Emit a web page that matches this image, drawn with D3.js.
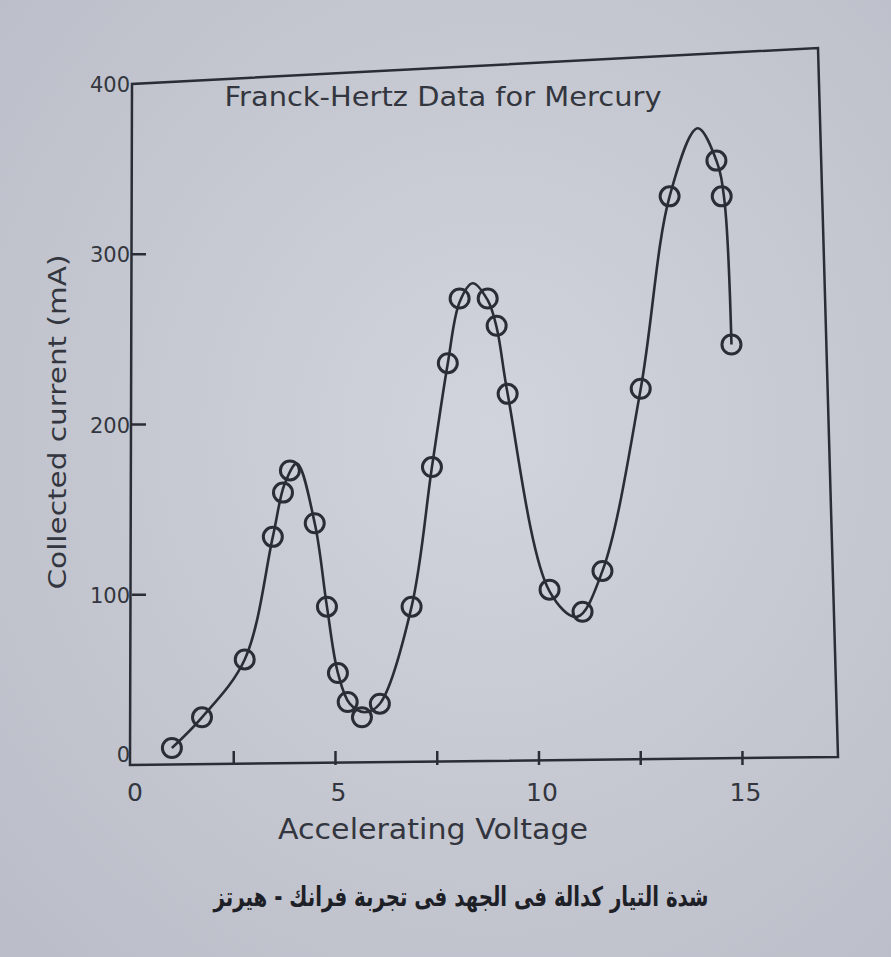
<!DOCTYPE html>
<html>
<head>
<meta charset="utf-8">
<script src="https://cdn.jsdelivr.net/npm/d3@7"></script>
<style>
  body { margin: 0; background: #c7cad3; }
  svg { display: block; }
</style>
</head>
<body>
<div id="grafico"></div>
<script>
// datos medidos (círculos)
const voltaje = [0.98, 1.72, 2.77, 3.46, 3.71, 3.88, 4.49, 4.79, 5.06, 5.30, 5.65, 6.09, 6.87,
  7.37, 7.76, 8.05, 8.74, 8.96, 9.23, 10.26, 11.07, 11.56, 12.50, 13.21, 14.36, 14.49, 14.73];
const corriente = [10, 28, 62, 134, 160, 173, 142, 93, 54, 37, 28, 36, 93,
  175, 236, 274, 274, 258, 218, 103, 90, 114, 221, 334, 355, 334, 247];

// curva suave dibujada a mano sobre los puntos
const curvaV = [0.98, 1.72, 2.77, 3.46, 3.75, 4.05, 4.49, 4.79, 5.06, 5.35, 5.72, 6.09, 6.87,
  7.37, 7.76, 8.05, 8.37, 8.74, 8.96, 9.23, 10.26, 10.93, 11.56, 12.50, 13.21, 13.90, 14.36, 14.55, 14.73];
const curvaI = [10, 28, 62, 134, 165, 177, 142, 93, 54, 36, 31, 36, 93,
  175, 236, 272, 283, 273, 257, 218, 102, 87, 114, 221, 334, 374, 355, 333, 247];

const ticksX = [0, 5, 10, 15];
const ticksXmenores = [2.5, 7.5, 12.5];
const ticksY = [0, 100, 200, 300, 400];

const titulo = "Franck-Hertz Data for Mercury";
const etiquetaX = "Accelerating Voltage";
const etiquetaY = "Collected current (mA)";
const pie = "شدة التيار كدالة فى الجهد فى تجربة فرانك - هيرتز";

const ancho = 891, alto = 957;
const tinta = "#2a2d35";
const gris = "#33363e";

const svg = d3.select("#grafico").append("svg")
  .attr("width", ancho)
  .attr("height", alto);

// papel
const grad = svg.append("defs").append("radialGradient")
  .attr("id", "papel").attr("cx", "55%").attr("cy", "45%").attr("r", "75%");
grad.append("stop").attr("offset", "0%").attr("stop-color", "#d1d4dc");
grad.append("stop").attr("offset", "100%").attr("stop-color", "#bbbec8");
svg.append("rect").attr("width", ancho).attr("height", alto).attr("fill", "url(#papel)");

const x = d3.scaleLinear().domain([0, 17.2]).range([132, 832]);
const y = d3.scaleLinear().domain([0, 400]).range([765, 84]);

// marco
svg.append("path")
  .attr("d", `M${x(0)},${y(400)} L${x(0) - 2},${y(0)} L${x(17.2) + 6},${y(0) - 8} L${x(17.2) - 14},${y(400) - 36} Z`)
  .attr("fill", "none")
  .attr("stroke", tinta)
  .attr("stroke-width", 2.5);

// marcas del eje x (hacia adentro)
svg.selectAll("line.tickX")
  .data(ticksX.slice(1).concat(ticksXmenores))
  .enter().append("line")
  .attr("class", "tickX")
  .attr("x1", d => x(d)).attr("x2", d => x(d))
  .attr("y1", y(0)).attr("y2", y(0) - 14)
  .attr("stroke", tinta).attr("stroke-width", 2.5);

svg.selectAll("text.tickX")
  .data(ticksX)
  .enter().append("text")
  .attr("class", "tickX")
  .attr("x", d => x(d) + 3)
  .attr("y", y(0) + 36)
  .attr("text-anchor", "middle")
  .attr("font-family", "DejaVu Sans")
  .attr("font-size", 25)
  .attr("fill", gris)
  .text(d => d);

// marcas del eje y
svg.selectAll("line.tickY")
  .data(ticksY.slice(1, 4))
  .enter().append("line")
  .attr("class", "tickY")
  .attr("x1", x(0)).attr("x2", x(0) + 14)
  .attr("y1", d => y(d)).attr("y2", d => y(d))
  .attr("stroke", tinta).attr("stroke-width", 2.5);

svg.selectAll("text.tickY")
  .data(ticksY)
  .enter().append("text")
  .attr("class", "tickY")
  .attr("x", x(0) - 2)
  .attr("y", d => d === 0 ? y(d) - 3 : y(d) + 8)
  .attr("text-anchor", "end")
  .attr("font-family", "DejaVu Sans")
  .attr("font-size", 21)
  .attr("fill", gris)
  .text(d => d);

// titulos
svg.append("text")
  .attr("x", 443).attr("y", 106)
  .attr("text-anchor", "middle")
  .attr("font-family", "DejaVu Sans")
  .attr("font-size", 27)
  .attr("textLength", 437)
  .attr("lengthAdjust", "spacingAndGlyphs")
  .attr("fill", gris)
  .text(titulo);

svg.append("text")
  .attr("x", 433).attr("y", 839)
  .attr("text-anchor", "middle")
  .attr("font-family", "DejaVu Sans")
  .attr("font-size", 28)
  .attr("textLength", 310)
  .attr("lengthAdjust", "spacingAndGlyphs")
  .attr("fill", gris)
  .text(etiquetaX);

svg.append("text")
  .attr("transform", "translate(66,422) rotate(-90)")
  .attr("text-anchor", "middle")
  .attr("font-family", "DejaVu Sans")
  .attr("font-size", 24)
  .attr("textLength", 335)
  .attr("lengthAdjust", "spacingAndGlyphs")
  .attr("fill", gris)
  .text(etiquetaY);

svg.append("text")
  .attr("x", 461).attr("y", 906)
  .attr("text-anchor", "middle")
  .attr("direction", "rtl")
  .attr("font-family", "DejaVu Sans")
  .attr("font-weight", "bold")
  .attr("font-size", 27)
  .attr("textLength", 495)
  .attr("lengthAdjust", "spacingAndGlyphs")
  .attr("fill", "#1e2027")
  .text(pie);

// curva
const linea = d3.line()
  .x((d, i) => x(curvaV[i]))
  .y(d => y(d))
  .curve(d3.curveCatmullRom.alpha(0.5));

svg.append("path")
  .datum(curvaI)
  .attr("d", linea)
  .attr("fill", "none")
  .attr("stroke", tinta)
  .attr("stroke-width", 2.6);

// puntos
svg.selectAll("circle.punto")
  .data(corriente)
  .enter().append("circle")
  .attr("class", "punto")
  .attr("cx", (d, i) => x(voltaje[i]))
  .attr("cy", d => y(d))
  .attr("r", 9.5)
  .attr("fill", "none")
  .attr("stroke", tinta)
  .attr("stroke-width", 3);
</script>
</body>
</html>
